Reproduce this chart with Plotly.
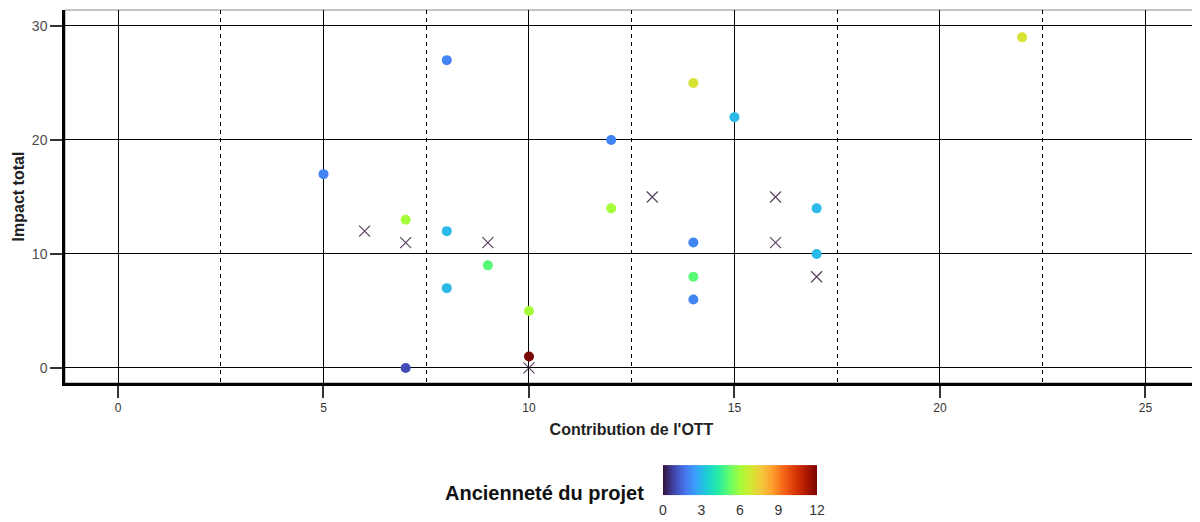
import plotly.graph_objects as go

# Projects with known seniority (Ancienneté du projet)
contribution = [5, 7, 7, 8, 8, 8, 9, 10, 10, 12, 12, 14, 14, 14, 14, 15, 17, 17, 22]
impact = [17, 13, 0, 27, 12, 7, 9, 5, 1, 20, 14, 25, 11, 8, 6, 22, 14, 10, 29]
anciennete = [2, 6, 1, 2, 3, 3, 5, 6, 12, 2, 6, 7, 2, 5, 2, 3, 3, 3, 7]

# Projects drawn with an "x" marker
contribution_x = [6, 7, 9, 10, 13, 16, 16, 17]
impact_x = [12, 11, 11, 0, 15, 15, 11, 8]
anciennete_x = [0, 0, 0, 0, 0, 0, 0, 0]

x_ticks = [0, 5, 10, 15, 20, 25]
y_ticks = [0, 10, 20, 30]
cbar_ticks = [0, 3, 6, 9, 12]

fig = go.Figure()

fig.add_trace(go.Scatter(
    x=contribution_x, y=impact_x, mode="markers", showlegend=False,
    marker=dict(symbol="x-thin", size=11, opacity=0.8,
                line=dict(width=1.2, color=anciennete_x, colorscale="Turbo",
                          cmin=0, cmax=12)),
))

fig.add_trace(go.Scatter(
    x=contribution, y=impact, mode="markers", showlegend=False,
    marker=dict(
        size=10, color=anciennete, colorscale="Turbo", cmin=0, cmax=12,
        showscale=True,
        colorbar=dict(
            orientation="h", x=(740 - 65) / 1133, xanchor="center",
            y=(383 - 492) / 373, yanchor="middle",
            lenmode="pixels", len=174, thickness=30, outlinewidth=0,
            tickvals=cbar_ticks, ticks="outside", ticklen=4, tickcolor="white",
            tickfont=dict(size=14, color="#333333"),
        ),
    ),
))

fig.add_shape(type="rect", xref="x domain", yref="y domain", x0=0, x1=1, y0=0, y1=1,
              line=dict(color="#8a8a8a", width=1), layer="below")

fig.add_annotation(text="<b>Ancienneté du projet</b>", xref="paper", yref="paper",
                   x=(646 - 65) / 1133, y=(383 - 493) / 373, xanchor="right", yanchor="middle",
                   showarrow=False, font=dict(size=20, color="#111111"))

fig.update_layout(
    width=1192, height=514,
    margin=dict(l=57, r=2, t=2, b=139, autoexpand=False),
    paper_bgcolor="white", plot_bgcolor="white",
    font=dict(family="Liberation Sans, Arial, sans-serif"),
    xaxis=dict(
        range=[-1.29, 26.28], tickvals=x_ticks, showgrid=True, gridcolor="black",
        gridwidth=1, zeroline=False, showline=True, linecolor="black", linewidth=2.5,
        ticks="outside", ticklen=12, tickcolor="#333333", tickwidth=1.5,
        tickfont=dict(size=12, color="#333333"), automargin=False,
        minor=dict(dtick=2.5, tick0=0, showgrid=True, gridcolor="black", gridwidth=1,
                   griddash="4px,4px", ticks=""),
        title=dict(text="<b>Contribution de l'OTT</b>", font=dict(size=16, color="#222222"),
                   standoff=10),
    ),
    yaxis=dict(
        range=[-1.32, 31.4], tickvals=y_ticks, showgrid=True, gridcolor="black",
        gridwidth=1, zeroline=False, showline=True, linecolor="black", linewidth=2.5,
        ticks="outside", ticklen=12, tickcolor="#333333", tickwidth=1.5,
        tickfont=dict(size=14, color="#4d4d4d"), automargin=False,
        title=dict(text="<b>Impact total</b>", font=dict(size=16, color="#222222"),
                   standoff=4),
    ),
)

fig.write_html("out.html")
